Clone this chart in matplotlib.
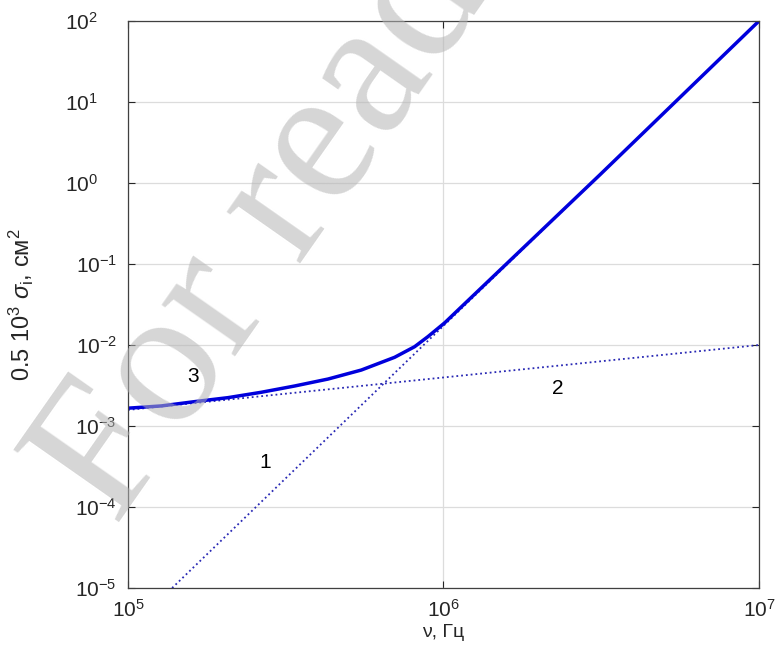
import math
import matplotlib
matplotlib.use("Agg")
import matplotlib.pyplot as plt
from matplotlib.ticker import LogLocator, NullLocator, FuncFormatter

plt.rcParams['font.family'] = ['Liberation Sans', 'DejaVu Sans']
plt.rcParams['mathtext.fontset'] = 'custom'
plt.rcParams['mathtext.rm'] = 'Liberation Sans'
plt.rcParams['mathtext.it'] = 'Liberation Sans:italic'

# curve 1 (dotted, steep), read at its two ends
line1_x = [1.38e5, 1e7]
line1_y = [1e-5, 1e2]
# curve 2 (dotted, shallow)
line2_x = [1e5, 1e7]
line2_y = [1.58e-3, 1e-2]
# curve 3 (solid)
curve3_x = [1e5, 1.275e5, 1.627e5, 2.075e5, 2.646e5, 3.376e5, 4.305e5, 5.49e5,
            7.0e5, 8.1e5, 8.93e5, 1.009e6, 1.112e6, 3.13e6, 1e7]
curve3_y = [1.66e-3, 1.77e-3, 2.00e-3, 2.24e-3, 2.61e-3, 3.12e-3, 3.80e-3, 4.91e-3,
            7.05e-3, 9.53e-3, 1.27e-2, 1.88e-2, 2.70e-2, 1.26, 100]

labels = ['1', '2', '3']
label_x = [2.72e5, 2.31e6, 1.61e5]
label_y = [3.5e-4, 2.94e-3, 4.14e-3]


def ylab(v, pos):
    e = int(round(math.log10(v)))
    s = '$10^{%d}$' % e
    if e >= 0:
        s += '    '  # non-negative labels sit further left in the original
    return s


fig = plt.figure(figsize=(7.77, 6.63), dpi=100)
ax = fig.add_axes([0.1647, 0.1131, 0.8121, 0.8552])

ax.plot(line1_x, line1_y, ':', color='#2828b4', lw=1.3)
ax.plot(line2_x, line2_y, ':', color='#2828b4', lw=1.3)
ax.plot(curve3_x, curve3_y, '-', color='#0000dc', lw=2.5)

for t, x, y in zip(labels, label_x, label_y):
    ax.text(x, y, t, fontsize=15, ha='center', va='center')

ax.set_xscale('log')
ax.set_yscale('log')
ax.set_xlim(1e5, 1e7)
ax.set_ylim(1e-5, 1e2)
ax.xaxis.set_major_locator(LogLocator(base=10, numticks=10))
ax.yaxis.set_major_locator(LogLocator(base=10, numticks=10))
ax.xaxis.set_minor_locator(NullLocator())
ax.yaxis.set_minor_locator(NullLocator())
ax.yaxis.set_major_formatter(FuncFormatter(ylab))
ax.grid(True, color='#dcdcdc', lw=0.9)
ax.set_axisbelow(True)
ax.tick_params(direction='in', length=5, width=0.8, top=True, right=True,
               labelsize=15, colors='#262626', pad=8)
for s in ax.spines.values():
    s.set_color('#404040')
    s.set_linewidth(0.9)

ax.set_xlabel('ν, Гц', fontsize=14, color='#262626', labelpad=2)
ax.set_ylabel('0.5 10$^3$ $\\sigma_{\\rm i}$, см$^2$', fontsize=17, color='#262626')
ax.yaxis.set_label_coords(-0.145, 0.5)

# watermark
fig.text(0.149, 0.204, 'For reading only', fontsize=140, family='Liberation Serif',
         color='#b4b4b4', alpha=0.55, rotation=55, rotation_mode='anchor',
         ha='left', va='baseline', zorder=10)

fig.savefig('out.png', dpi=100)
